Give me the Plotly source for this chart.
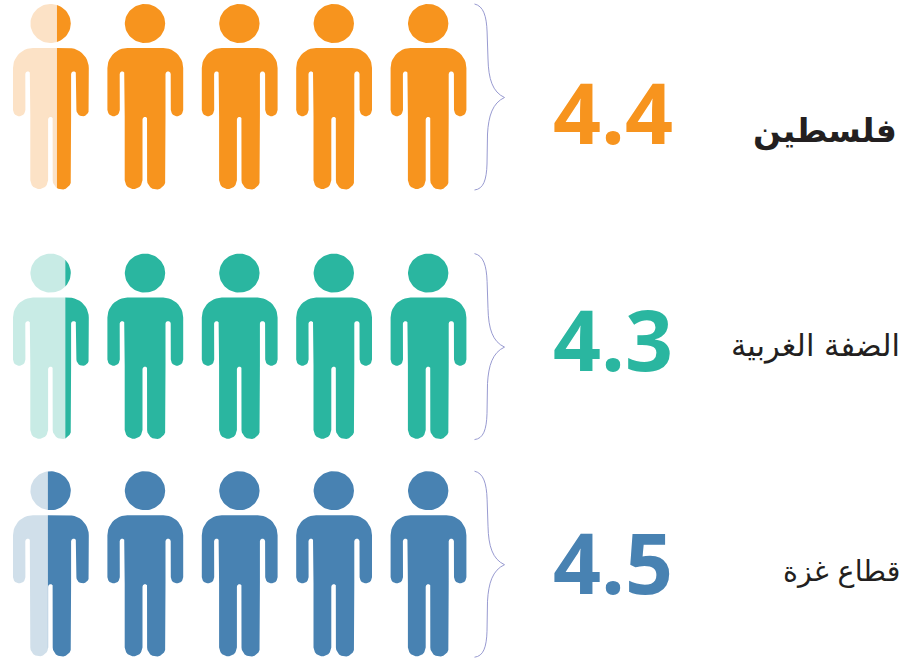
import numpy as np
import plotly.graph_objects as go

# ---- data ----
regions = ["فلسطين", "الضفة الغربية", "قطاع غزة"]
values = [4.4, 4.3, 4.5]
value_labels = ["4.4", "4.3", "4.5"]
partial_share = [0.42, 0.31, 0.54]   # share of the first figure that is solid, as drawn
colors = ["#F7941E", "#2AB6A0", "#4882B2"]
faded = ["#FCE2C6", "#C8EBE5", "#D0DFEA"]
label_bold = [True, False, False]
label_size = [33, 30.5, 28.5]

# ---- layout constants (pixel-like axis units) ----
W, H = 906, 662
row_top = [4.0, 253.6, 471.2]
value_y = [111, 338, 561]
label_y = [131, 346, 571]
person_left = 13.0
person_step = 94.4
person_w = 75.8
brace_x = 474.5
value_x = 613
label_x = [899, 902, 902]


def arc(cx, cy, r, a0, a1, n=12):
    t = np.radians(np.linspace(a0, a1, n))
    return list(zip(cx + r * np.cos(t), cy - r * np.sin(t)))


def body_outline():
    """Person silhouette in local units: y 0 = top of head, x 0 = left hand."""
    p = []
    p += arc(20, 64, 20, 180, 90)            # left shoulder
    p += arc(55.8, 64, 20, 90, 0)            # right shoulder
    p += arc(69.6, 106, 6.2, 0, -180)        # right hand
    p += arc(60.7, 70, 2.6, 0, 180, 6)       # right armpit
    p += [(58.1, 112)]
    p += arc(48.9, 176.3, 9.2, 0, -180)      # right foot
    p += arc(37.6, 115.5, 2.5, 0, 180, 6)    # crotch
    p += arc(26.2, 176.3, 8.9, 0, -180)      # left foot
    p += [(17.3, 112)]
    p += arc(14.8, 70, 2.5, 0, 180, 6)       # left armpit
    p += arc(6.2, 106, 6.2, 0, -180)         # left hand
    return p


def head_outline():
    t = np.radians(np.linspace(0, 360, 72))
    return list(zip(37.6 + 20.2 * np.cos(t), 19.5 + 19.5 * np.sin(t)))


def clip_x(poly, x0, keep_right):
    out = []
    n = len(poly)
    inside = (lambda q: q[0] >= x0) if keep_right else (lambda q: q[0] <= x0)
    for i in range(n):
        a, b = poly[i], poly[(i + 1) % n]
        ia, ib = inside(a), inside(b)
        if ia:
            out.append(a)
        if ia != ib:
            s = (x0 - a[0]) / (b[0] - a[0])
            out.append((x0, a[1] + s * (b[1] - a[1])))
    return out


def add_polys(fig, polys, color):
    xs, ys = [], []
    for poly in polys:
        if not poly:
            continue
        xs += [q[0] for q in poly] + [poly[0][0], None]
        ys += [q[1] for q in poly] + [poly[0][1], None]
    fig.add_trace(go.Scatter(x=xs, y=ys, mode="lines", fill="toself", fillcolor=color,
                             line=dict(width=0, color=color), hoverinfo="skip",
                             showlegend=False))


fig = go.Figure()
parts = [body_outline(), head_outline()]

for r, value in enumerate(values):
    n = int(np.ceil(value))
    solid, pale = [], []
    for i in range(n):
        ox = person_left + i * person_step
        oy = row_top[r]
        for part in parts:
            placed = [(ox + x, oy + y) for x, y in part]
            if i == 0:
                cut = ox + person_w * (1 - partial_share[r])
                pale.append(clip_x(placed, cut, False))
                solid.append(clip_x(placed, cut, True))
            else:
                solid.append(placed)
    add_polys(fig, pale, faded[r])
    add_polys(fig, solid, colors[r])

shapes = []
for r in range(len(values)):
    t = row_top[r]
    X = lambda dx: brace_x + dx
    Y = lambda dy: t + dy
    path = (f"M {X(0)} {Y(0)} C {X(9)} {Y(2)} {X(12)} {Y(12)} {X(12.6)} {Y(28)} "
            f"L {X(13.5)} {Y(55)} C {X(14)} {Y(75)} {X(18)} {Y(88)} {X(30)} {Y(93.5)} "
            f"C {X(18)} {Y(99)} {X(14)} {Y(112)} {X(13)} {Y(130)} "
            f"L {X(12.5)} {Y(160)} C {X(12)} {Y(176)} {X(9)} {Y(185)} {X(0)} {Y(186)}")
    shapes.append(dict(type="path", path=path, xref="x", yref="y",
                       line=dict(color="#8C8FCB", width=0.9)))

annotations = []
for r in range(len(values)):
    annotations.append(dict(x=value_x, y=value_y[r], xref="x", yref="y", text=f"<b>{value_labels[r]}</b>",
                            showarrow=False, xanchor="center", yanchor="middle",
                            font=dict(family="Open Sans", size=84, color=colors[r])))
    txt = f"<b>{regions[r]}</b>" if label_bold[r] else regions[r]
    annotations.append(dict(x=label_x[r], y=label_y[r], xref="x", yref="y", text=txt,
                            showarrow=False, xanchor="right", yanchor="middle",
                            font=dict(family="DejaVu Sans", size=label_size[r], color="#231F20")))

fig.update_layout(width=W, height=H, margin=dict(l=0, r=0, t=0, b=0),
                  paper_bgcolor="white", plot_bgcolor="white", showlegend=False,
                  xaxis=dict(range=[0, W], visible=False, fixedrange=True),
                  yaxis=dict(range=[H, 0], visible=False, fixedrange=True),
                  shapes=shapes, annotations=annotations)

fig.write_html("out.html", config={"displayModeBar": False},
               post_script="document.body.style.margin='0';")
